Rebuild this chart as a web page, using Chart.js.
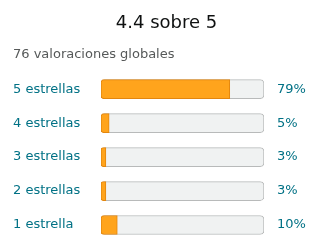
<!DOCTYPE html>
<html>
<head>
<meta charset="utf-8">
<script src="https://cdn.jsdelivr.net/npm/chart.js@4.4.0/dist/chart.umd.min.js"></script>
<style>
  html, body { margin: 0; padding: 0; background: #fff; }
  #wrap { width: 320px; height: 252px; }
</style>
</head>
<body>
<div id="wrap"><canvas id="myChart"></canvas></div>
<script>
const categories = ['5 estrellas', '4 estrellas', '3 estrellas', '2 estrellas', '1 estrella'];
const percentValues = [79, 5, 3, 3, 10];
const percentLabels = ['79%', '5%', '3%', '3%', '10%'];
const trackValues = [100, 100, 100, 100, 100];
const titleText = '4.4 sobre 5';
const subtitleText = '76 valoraciones globales';

const teal = '#007185';
Chart.defaults.font.family = '"DejaVu Sans", sans-serif';

const ctx = document.getElementById('myChart');
new Chart(ctx, {
  type: 'bar',
  data: {
    labels: categories,
    datasets: [{
      label: 'porcentaje',
      data: percentValues,
      backgroundColor: '#ffa41c',
      borderColor: '#e3860e',
      borderWidth: 1,
      borderSkipped: false,
      borderRadius: { topLeft: 3, bottomLeft: 3, topRight: 0, bottomRight: 0 },
      barThickness: 19,
      grouped: false,
      order: 1
    }, {
      label: 'total',
      data: trackValues,
      backgroundColor: '#f0f2f2',
      borderColor: '#b8baba',
      borderWidth: 1,
      borderSkipped: false,
      borderRadius: 4,
      barThickness: 19,
      grouped: false,
      order: 2
    }]
  },
  options: {
    indexAxis: 'y',
    responsive: true,
    maintainAspectRatio: false,
    animation: false,
    layout: { padding: { left: 13, right: 0, top: 0, bottom: 10 } },
    plugins: {
      legend: { display: false },
      tooltip: { enabled: false },
      title: {
        display: true,
        text: titleText,
        color: '#0f1111',
        font: { size: 18, weight: 'normal' },
        padding: { top: 13, bottom: 12 }
      },
      subtitle: {
        display: true,
        text: subtitleText,
        align: 'start',
        color: '#565959',
        font: { size: 13 },
        padding: { top: 0, bottom: 10 }
      }
    },
    scales: {
      x: { display: false, min: 0, max: 100 },
      y: {
        position: 'left',
        grid: { display: false },
        border: { display: false },
        ticks: { color: teal, font: { size: 13 }, crossAlign: 'far', padding: 0 },
        afterFit: function(scale) {
          scale.width = 88;
          scale.paddingTop = 0;
          scale.paddingBottom = 0;
        }
      },
      y2: {
        type: 'category',
        position: 'right',
        labels: percentLabels,
        grid: { display: false },
        border: { display: false },
        ticks: { color: teal, font: { size: 13 }, padding: 5 },
        afterFit: function(scale) {
          scale.width = 56;
          scale.paddingTop = 0;
          scale.paddingBottom = 0;
        }
      }
    }
  }
});
</script>
</body>
</html>
